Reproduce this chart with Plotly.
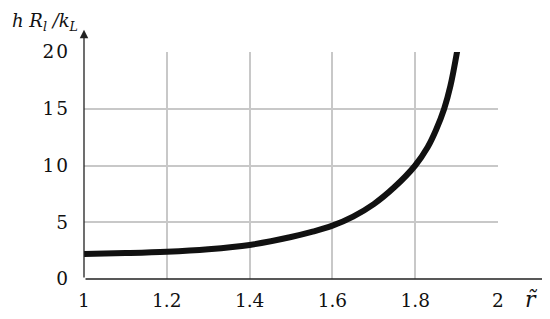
import plotly.graph_objects as go

r_values = [1.0, 1.1, 1.2, 1.3, 1.4, 1.5, 1.55, 1.6, 1.65, 1.7, 1.75, 1.8, 1.83, 1.85, 1.87, 1.885, 1.902]
h_values = [2.2, 2.28, 2.4, 2.62, 3.0, 3.7, 4.15, 4.7, 5.5, 6.6, 8.1, 10.0, 11.6, 13.1, 15.0, 17.0, 20.2]

x_ticks = [1, 1.2, 1.4, 1.6, 1.8, 2]
x_ticklabels = ["1", "1.2", "1.4", "1.6", "1.8", "2"]
y_ticks = [0, 5, 10, 15, 20]
y_ticklabels = ["0", "5", "1\u200a0", "1\u200a5", "2\u200a0"]

serif = "DejaVu Serif"

fig = go.Figure()
fig.add_trace(go.Scatter(
    x=r_values, y=h_values, mode="lines",
    line=dict(color="#111111", width=6, shape="spline", smoothing=1.0),
    cliponaxis=False, hoverinfo="skip", showlegend=False,
))

# page body has an 8px offset, so the figure is 542x311
fig.update_layout(
    width=542, height=311,
    margin=dict(l=76, r=52, t=44, b=40, autoexpand=False),
    plot_bgcolor="white", paper_bgcolor="white",
    font=dict(family=serif, size=18.5, color="#111111"),
    xaxis=dict(range=[1, 2], tickvals=x_ticks, ticktext=x_ticklabels,
               showgrid=True, gridcolor="#c8c8c8", gridwidth=1.5,
               zeroline=False, showline=False, ticks="", ticklen=0,
               automargin=False, ticklabelstandoff=8,
               tickfont=dict(family=serif, size=18.5, color="#111111")),
    yaxis=dict(range=[0, 20], tickvals=y_ticks, ticktext=y_ticklabels,
               showgrid=True, gridcolor="#c8c8c8", gridwidth=1.5,
               zeroline=False, showline=False, ticks="", ticklen=0,
               automargin=False, ticklabelstandoff=15,
               tickfont=dict(family=serif, size=18.5, color="#111111")),
)

# axis lines with arrows
fig.add_annotation(x=2.15, y=0, ax=1, ay=0, xref="x", yref="y", axref="x", ayref="y",
                   showarrow=True, arrowhead=2, arrowsize=1.3, arrowwidth=1.3,
                   arrowcolor="#222222", text="")
fig.add_annotation(x=1, y=21.95, ax=1, ay=0, xref="x", yref="y", axref="x", ayref="y",
                   showarrow=True, arrowhead=2, arrowsize=1.3, arrowwidth=1.3,
                   arrowcolor="#222222", text="")

fig.add_annotation(x=0, y=1, xref="paper", yref="paper", xshift=-4, yshift=30,
                   xanchor="right", yanchor="middle", showarrow=False,
                   text="<i>h R<sub>l</sub> /k<sub>L</sub></i>",
                   font=dict(family=serif, size=18, color="#111111"))
fig.add_annotation(x=1.06, y=0, xref="paper", yref="paper", xshift=0, yshift=-20,
                   xanchor="left", yanchor="middle", showarrow=False,
                   text="<i>r\u0303</i>",
                   font=dict(family=serif, size=22, color="#111111"))

fig.write_html("out.html")
